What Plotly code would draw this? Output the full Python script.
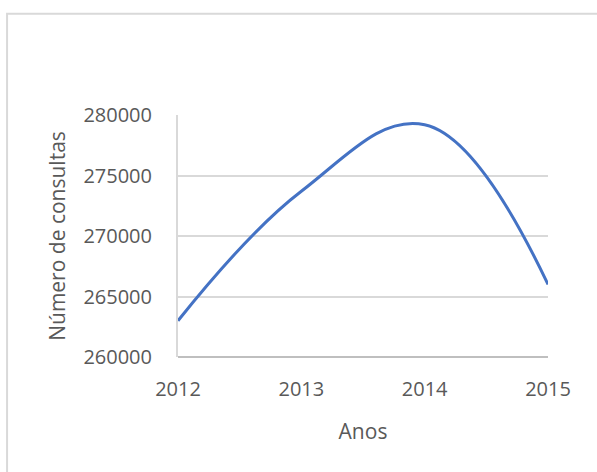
import plotly.graph_objects as go

anos = [2012, 2013, 2014, 2015]
consultas = [263000, 273700, 279200, 266000]
y_ticks = [260000, 265000, 270000, 275000, 280000]
x_ticks = [2012, 2013, 2014, 2015]

fig = go.Figure()
fig.add_trace(go.Scatter(
    x=anos, y=consultas, mode="lines",
    line=dict(color="#4472C4", width=3, shape="spline", smoothing=1.15),
    hoverinfo="skip", showlegend=False,
))

font_family = "Open Sans, Liberation Sans, sans-serif"
fig.update_layout(
    width=597, height=472,
    margin=dict(l=178, r=49, t=115, b=115),
    paper_bgcolor="white", plot_bgcolor="white",
    font=dict(family=font_family, color="#595959", size=20),
    xaxis=dict(
        range=[2012, 2015], tickvals=x_ticks, ticktext=[str(v) for v in x_ticks],
        showgrid=False, zeroline=False, showline=False,
        ticks="", ticklabelstandoff=18,
        title=dict(text="Anos", font=dict(size=21, color="#595959"), standoff=23),
    ),
    yaxis=dict(
        range=[260000, 280000], tickvals=y_ticks, ticktext=[str(v) for v in y_ticks],
        showgrid=True, gridcolor="#d9d9d9", gridwidth=2,
        zeroline=False, showline=True, linecolor="#d9d9d9", linewidth=2,
        ticks="", ticklabelstandoff=20,
        title=dict(text="Número de consultas", font=dict(size=21, color="#595959"), standoff=12),
    ),
    shapes=[
        dict(type="line", xref="paper", yref="paper", x0=0, x1=1, y0=0, y1=0,
             line=dict(color="#bfbfbf", width=2), layer="above"),
        dict(type="rect", xref="paper", yref="paper", x0=-0.462, x1=2, y0=-1, y1=1.418,
             line=dict(color="#d9d9d9", width=2), fillcolor="rgba(0,0,0,0)", layer="below"),
    ],
)

fig.write_html("out.html")
